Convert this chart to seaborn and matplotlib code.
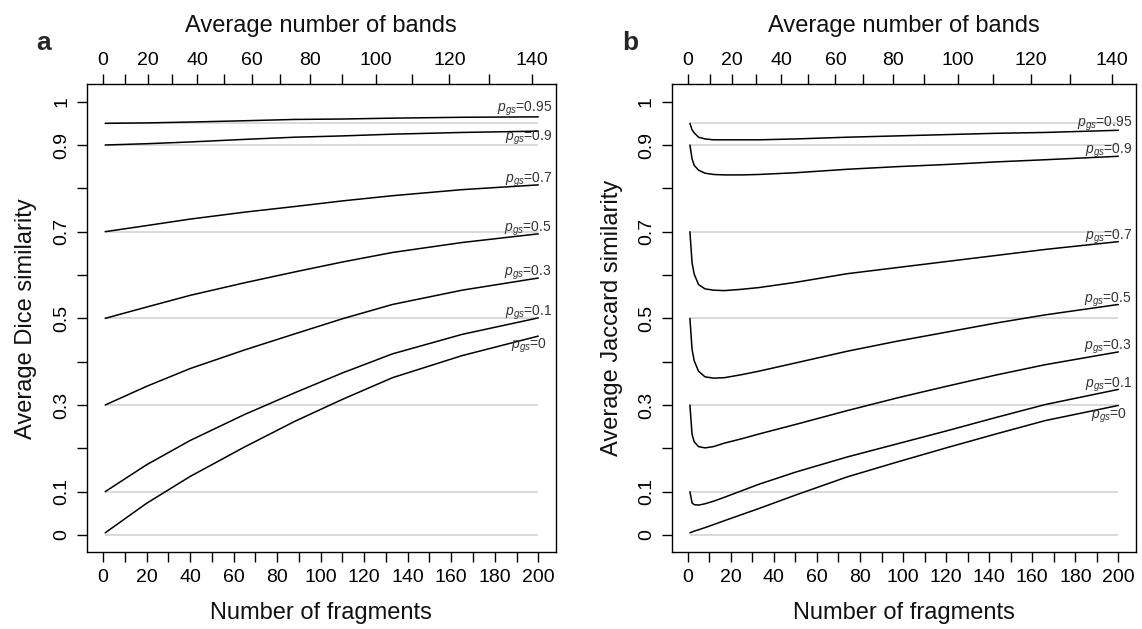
import numpy as np
import pandas as pd
import matplotlib
matplotlib.use('Agg')
import matplotlib.pyplot as plt
import seaborn as sns

# p_gs levels and their label text
p_levels = [0.95, 0.9, 0.7, 0.5, 0.3, 0.1, 0]
p_labels = ['0.95', '0.9', '0.7', '0.5', '0.3', '0.1', '0']

# panel a: average Dice similarity
n_dice = [1, 20, 40, 65, 88, 110, 133, 165, 200]
dice_095 = [0.950, 0.951, 0.953, 0.956, 0.959, 0.960, 0.962, 0.964, 0.965]
dice_090 = [0.900, 0.903, 0.907, 0.913, 0.918, 0.921, 0.925, 0.929, 0.932]
dice_070 = [0.700, 0.714, 0.729, 0.745, 0.758, 0.771, 0.783, 0.797, 0.808]
dice_050 = [0.500, 0.526, 0.553, 0.582, 0.607, 0.630, 0.652, 0.675, 0.695]
dice_030 = [0.300, 0.343, 0.384, 0.427, 0.464, 0.499, 0.532, 0.565, 0.593]
dice_010 = [0.100, 0.162, 0.218, 0.278, 0.328, 0.374, 0.418, 0.463, 0.501]
dice_000 = [0.005, 0.073, 0.135, 0.203, 0.262, 0.313, 0.363, 0.414, 0.459]

# panel b: average Jaccard similarity
n_jac = [1, 2, 3, 5, 8, 12, 17, 25, 33, 50, 74, 97, 120, 143, 166, 200]
jac_095 = [0.950, 0.935, 0.928, 0.918, 0.914, 0.912, 0.912, 0.912, 0.912, 0.914, 0.918, 0.921, 0.924, 0.927, 0.929, 0.934]
jac_090 = [0.900, 0.868, 0.853, 0.842, 0.835, 0.832, 0.831, 0.831, 0.832, 0.836, 0.844, 0.850, 0.855, 0.861, 0.866, 0.874]
jac_070 = [0.700, 0.628, 0.602, 0.578, 0.568, 0.565, 0.564, 0.567, 0.571, 0.583, 0.603, 0.617, 0.631, 0.645, 0.659, 0.677]
jac_050 = [0.500, 0.428, 0.402, 0.378, 0.365, 0.362, 0.363, 0.370, 0.378, 0.397, 0.424, 0.447, 0.468, 0.489, 0.508, 0.532]
jac_030 = [0.300, 0.232, 0.215, 0.204, 0.201, 0.204, 0.212, 0.222, 0.233, 0.255, 0.287, 0.316, 0.343, 0.369, 0.393, 0.4225]
jac_010 = [0.100, 0.074, 0.070, 0.069, 0.072, 0.078, 0.087, 0.102, 0.117, 0.145, 0.180, 0.210, 0.240, 0.271, 0.301, 0.336]
jac_000 = [0.005, 0.007, 0.009, 0.012, 0.017, 0.024, 0.033, 0.047, 0.061, 0.092, 0.134, 0.168, 0.201, 0.233, 0.264, 0.299]

# top axis: number of fragments where the band counts fall
band_tick_frag = [0, 10.1, 20.5, 31.9, 43.3, 55.7, 68.6, 81.4, 95.3, 109.7, 125.5, 141.9, 159.2, 177.3, 196.9]
band_tick_labels = ['0', '', '20', '', '40', '', '60', '', '80', '', '100', '', '120', '', '140']

x_ticks = list(range(0, 201, 10))
x_tick_labels = [str(v) if v % 20 == 0 else '' for v in x_ticks]
y_ticks = [0, 0.1, 0.2, 0.3, 0.4, 0.5, 0.6, 0.7, 0.8, 0.9, 1.0]
y_tick_labels = ['0', '0.1', '', '0.3', '', '0.5', '', '0.7', '', '0.9', '1']

sns.set_theme(style='white')
plt.rcParams['font.family'] = ['Liberation Sans', 'DejaVu Sans']
plt.rcParams['mathtext.fontset'] = 'custom'
plt.rcParams['mathtext.it'] = 'Liberation Sans:italic'
plt.rcParams['mathtext.rm'] = 'Liberation Sans'


def long_df(n, curves):
    rows = []
    for p, vals in zip(p_levels, curves):
        for x, v in zip(n, vals):
            rows.append({'n': x, 'sim': v, 'p': p})
    return pd.DataFrame(rows)


def draw_panel(ax, n, curves, ylabel, label_dy):
    ax.hlines(p_levels, 1, 200, color='#cfcfcf', lw=1.1, zorder=1)
    df = long_df(n, curves)
    sns.lineplot(data=df, x='n', y='sim', units='p', estimator=None,
                 color='black', lw=1.1, ax=ax, zorder=3)
    for p, lab, vals, dy in zip(p_levels, p_labels, curves, label_dy):
        xl = 204.2 if p == 0 else 206.3
        ax.annotate(r'$p_{gs}$=' + lab, xy=(xl, vals[-1]), xytext=(0, dy),
                    textcoords='offset points', ha='right', va='center',
                    fontsize=10, color='#333333', zorder=4)

    ax.set_xlim(-7.5, 208)
    ax.set_ylim(-0.04, 1.04)
    ax.set_xticks(x_ticks)
    ax.set_xticklabels(x_tick_labels)
    ax.set_yticks(y_ticks)
    ax.set_yticklabels(y_tick_labels, rotation=90, va='center')
    ax.tick_params(axis='both', direction='out', length=7, width=1,
                   colors='black', labelsize=14, pad=5, bottom=True, left=True)
    for s in ax.spines.values():
        s.set_color('black')
        s.set_linewidth(1.0)
    ax.set_xlabel('Number of fragments', fontsize=17, color='#111111')
    ax.xaxis.set_label_coords(0.5, -0.106)
    ax.set_ylabel(ylabel, fontsize=17, color='#111111')
    ax.yaxis.set_label_coords(-0.105, 0.5)

    top = ax.twiny()
    top.set_xlim(ax.get_xlim())
    top.set_xticks(band_tick_frag)
    top.set_xticklabels(band_tick_labels)
    top.tick_params(axis='x', direction='out', length=7, width=1, colors='black',
                    labelsize=14, pad=4, top=True, bottom=False)
    for s in top.spines.values():
        s.set_visible(False)
    top.set_xlabel('Average number of bands', fontsize=17, color='#111111')
    top.xaxis.set_label_coords(0.5, 1.111)


fig = plt.figure(figsize=(11.42, 6.29), dpi=100)
ax_a = fig.add_axes([0.0759, 0.1219, 0.4107, 0.744])
ax_b = fig.add_axes([0.5881, 0.1219, 0.4063, 0.744])

draw_panel(ax_a, n_dice,
           [dice_095, dice_090, dice_070, dice_050, dice_030, dice_010, dice_000],
           'Average Dice similarity', [6.0, -4.8, 3.6, 3.6, 3.6, 3.6, -7.2])
draw_panel(ax_b, n_jac,
           [jac_095, jac_090, jac_070, jac_050, jac_030, jac_010, jac_000],
           'Average Jaccard similarity', [4.8, 3.6, 3.6, 3.6, 3.6, 3.6, -7.2])

fig.text(0.0385, 0.9316, 'a', fontsize=19, fontweight='bold', ha='center', va='center')
fig.text(0.5517, 0.9316, 'b', fontsize=19, fontweight='bold', ha='center', va='center')

fig.savefig('out.png', dpi=100)
